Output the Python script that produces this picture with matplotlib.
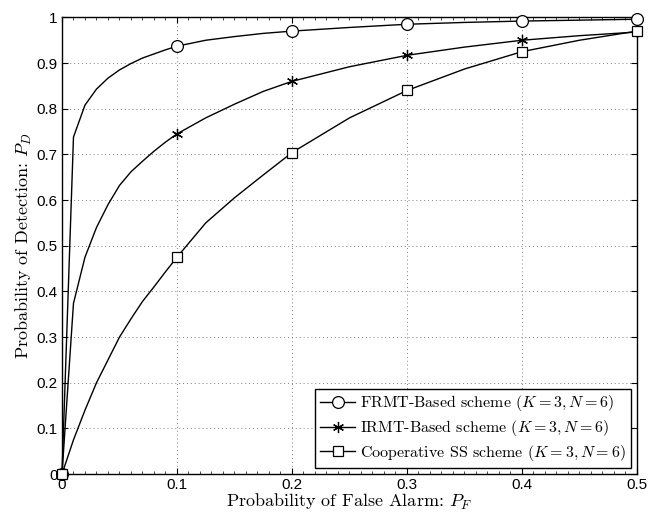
import matplotlib
matplotlib.use('Agg')
import matplotlib.pyplot as plt
from matplotlib.ticker import MultipleLocator

plt.rcParams['mathtext.fontset'] = 'cm'

# false alarm probability grid
pf = [0, 0.01, 0.02, 0.03, 0.04, 0.05, 0.06, 0.07, 0.08, 0.09, 0.1,
      0.125, 0.15, 0.175, 0.2, 0.25, 0.3, 0.35, 0.4, 0.45, 0.5]

pd_frmt = [0, 0.738, 0.808, 0.843, 0.867, 0.885, 0.899, 0.911, 0.920, 0.929, 0.937,
           0.950, 0.958, 0.965, 0.970, 0.978, 0.985, 0.989, 0.992, 0.994, 0.996]
pd_irmt = [0, 0.374, 0.475, 0.540, 0.590, 0.632, 0.662, 0.685, 0.707, 0.727, 0.745,
           0.780, 0.810, 0.838, 0.860, 0.892, 0.917, 0.935, 0.950, 0.960, 0.968]
pd_coop = [0, 0.075, 0.140, 0.200, 0.250, 0.300, 0.340, 0.378, 0.410, 0.443, 0.475,
           0.550, 0.605, 0.655, 0.704, 0.780, 0.840, 0.887, 0.925, 0.950, 0.970]

labels = [r'FRMT-Based scheme $(K=3, N=6)$',
          r'IRMT-Based scheme $(K=3, N=6)$',
          r'Cooperative SS scheme $(K=3, N=6)$']

xticks = [0, 0.1, 0.2, 0.3, 0.4, 0.5]
xticklabels = ['0', '0.1', '0.2', '0.3', '0.4', '0.5']
yticks = [0, 0.1, 0.2, 0.3, 0.4, 0.5, 0.6, 0.7, 0.8, 0.9, 1]
yticklabels = ['0', '0.1', '0.2', '0.3', '0.4', '0.5', '0.6', '0.7', '0.8', '0.9', '1']

mark_idx = [pf.index(v) for v in xticks]

fig = plt.figure(figsize=(6.49, 5.12), dpi=100, facecolor='white')
ax = fig.add_axes([0.0955, 0.074, 0.886, 0.892])

ax.plot(pf, pd_frmt, 'k-', lw=1.0, marker='o', ms=8.5, mfc='white', mec='k',
        mew=0.9, markevery=mark_idx, label=labels[0], clip_on=False, zorder=4)
ax.plot(pf, pd_irmt, 'k-', lw=1.0, marker=(6, 2, 0), ms=8, mec='k',
        mew=0.9, markevery=mark_idx, label=labels[1], clip_on=False, zorder=4)
ax.plot(pf, pd_coop, 'k-', lw=1.0, marker='s', ms=7.5, mfc='white', mec='k',
        mew=0.9, markevery=mark_idx, label=labels[2], clip_on=False, zorder=4)

ax.set_xlim(0, 0.5)
ax.set_ylim(0, 1)
ax.set_xticks(xticks)
ax.set_xticklabels(xticklabels, family='Liberation Sans', fontsize=11)
ax.set_yticks(yticks)
ax.set_yticklabels(yticklabels, family='Liberation Sans', fontsize=11)
ax.tick_params(direction='in', top=True, right=True, length=4, width=0.8, pad=3)
ax.xaxis.set_minor_locator(MultipleLocator(0.01))
ax.tick_params(which='minor', direction='in', top=True, right=False, length=2, width=0.5)
for s in ax.spines.values():
    s.set_linewidth(1.0)

ax.grid(True, ls=(0, (1, 3)), color='0.5', lw=0.7)

ax.set_xlabel('Probability of False Alarm: $P_F$', family='cmr10', fontsize=13, labelpad=0)
ax.set_ylabel('Probability of Detection: $P_D$', family='cmr10', fontsize=13, labelpad=2)

leg = ax.legend(loc='lower right', prop={'family': 'cmr10', 'size': 11.5},
                fancybox=False, edgecolor='k', framealpha=1, borderaxespad=0.4,
                handlelength=2.2, handletextpad=0.3, labelspacing=0.3, borderpad=0.3)
leg.get_frame().set_linewidth(1.0)
leg.set_zorder(5)

fig.savefig('out.png', dpi=100)
